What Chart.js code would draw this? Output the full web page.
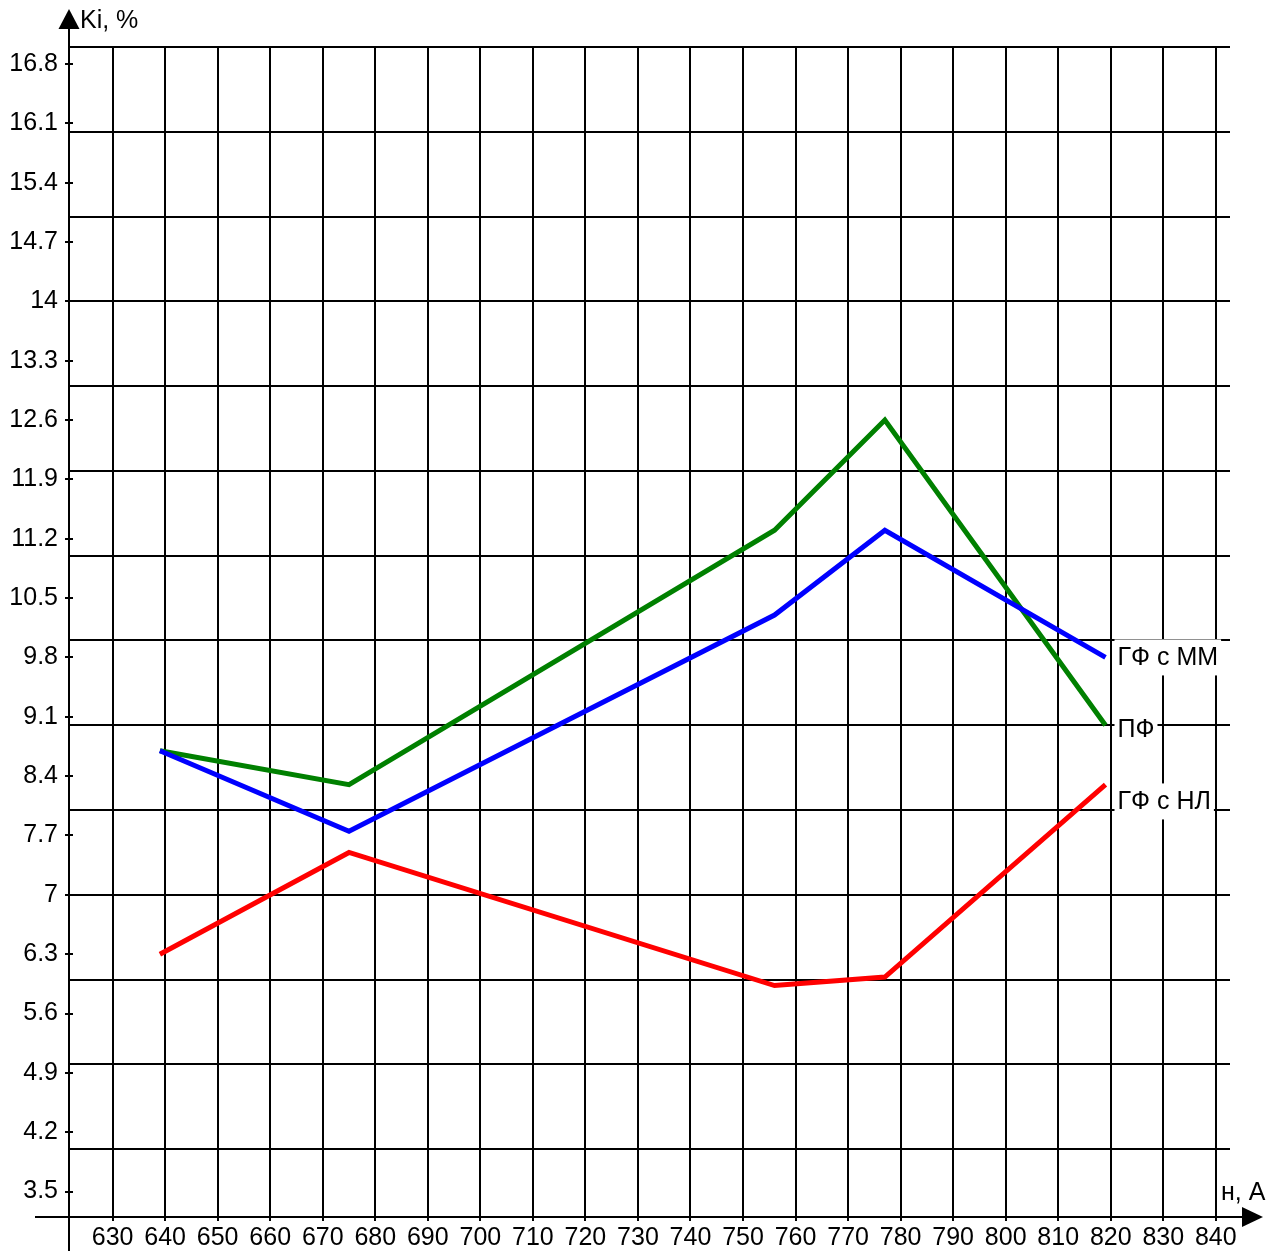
<!DOCTYPE html>
<html>
<head>
<meta charset="utf-8">
<script src="https://cdn.jsdelivr.net/npm/chart.js@4.4.1/dist/chart.umd.min.js"></script>
<style>
  html, body { margin: 0; padding: 0; background: #fff; overflow: hidden; }
  canvas { display: block; }
</style>
</head>
<body>
<canvas id="chart" width="1278" height="1251"></canvas>
<script>
// Current, A
const currents = [639, 675, 756, 777, 819];
// Ki, % for each filter variant
const mmValues = [8.7, 7.75, 10.3, 11.3, 9.8];   // ГФ с ММ
const pfValues = [8.7, 8.3, 11.3, 12.6, 9.0];    // ПФ
const nlValues = [6.3, 7.5, 5.93, 6.03, 8.3];    // ГФ с НЛ
const seriesNames = ['ГФ с ММ', 'ПФ', 'ГФ с НЛ'];
const seriesColors = ['#0000ff', '#008000', '#ff0000'];

const xTickValues = [630, 640, 650, 660, 670, 680, 690, 700, 710, 720, 730,
                     740, 750, 760, 770, 780, 790, 800, 810, 820, 830, 840];
const yTickLabels = ['3.5', '4.2', '4.9', '5.6', '6.3', '7', '7.7', '8.4', '9.1', '9.8',
                     '10.5', '11.2', '11.9', '12.6', '13.3', '14', '14.7', '15.4', '16.1', '16.8'];
const yGridValues = [4, 5, 6, 7, 8, 9, 10, 11, 12, 13, 14, 15, 16, 17];
const yAxisTitle = 'Ki, %';
const xAxisTitle = 'н, А';

const INK = '#000';
const FONT = { family: '"Liberation Sans", Arial, sans-serif', size: 25 };
const fontStr = `${FONT.size}px ${FONT.family}`;

const toPoints = vals => currents.map((x, i) => ({ x, y: vals[i] }));
const seriesValues = [mmValues, pfValues, nlValues];

// Axis arrows, extended axis lines, axis titles and the short inner y tick marks
const axisDecor = {
  id: 'axisDecor',
  afterDraw(chart) {
    const { ctx, chartArea: a } = chart;
    const yl = chart.scales.y;
    ctx.save();
    ctx.strokeStyle = INK;
    ctx.fillStyle = '#000';
    ctx.lineWidth = 2;
    const ax = Math.round(a.left);
    const ay = Math.round(a.bottom);
    ctx.beginPath();
    // y axis: up to arrow and down past the x axis
    ctx.moveTo(ax, a.top); ctx.lineTo(ax, 26);
    ctx.moveTo(ax, ay); ctx.lineTo(ax, chart.height);
    // x axis: left of the y axis and on to the arrow
    ctx.moveTo(35, ay); ctx.lineTo(ax, ay);
    ctx.moveTo(a.right, ay); ctx.lineTo(1244, ay);
    // inner halves of the y tick marks
    yl.ticks.forEach(t => {
      const py = Math.round(yl.getPixelForValue(t.value));
      ctx.moveTo(ax, py); ctx.lineTo(ax + 4, py);
    });
    ctx.stroke();
    // arrow heads
    ctx.beginPath();
    ctx.moveTo(ax, 9); ctx.lineTo(ax - 10.5, 29); ctx.lineTo(ax + 10.5, 29); ctx.closePath();
    ctx.fill();
    ctx.beginPath();
    ctx.moveTo(1263, ay); ctx.lineTo(1242, ay - 10); ctx.lineTo(1242, ay + 10); ctx.closePath();
    ctx.fill();
    // axis titles
    ctx.font = fontStr;
    ctx.fillStyle = INK;
    ctx.textAlign = 'left';
    ctx.textBaseline = 'middle';
    ctx.fillText(yAxisTitle, 80, 21);
    ctx.fillText(xAxisTitle, 1221, 1193);
    ctx.restore();
  }
};

// Series names at the right end of each line, on white boxes, kept apart vertically
const endLabels = {
  id: 'endLabels',
  afterDatasetsDraw(chart) {
    const { ctx } = chart;
    const xs = chart.scales.x, ys = chart.scales.y;
    const items = chart.data.datasets.map(ds => {
      const last = ds.data[ds.data.length - 1];
      return { text: ds.label, x: xs.getPixelForValue(last.x), y: ys.getPixelForValue(last.y) };
    }).sort((p, q) => p.y - q.y);
    const gap = 72;
    for (let i = 1; i < items.length; i++) {
      items[i].y = Math.max(items[i].y, items[i - 1].y + gap);
    }
    ctx.save();
    ctx.font = fontStr;
    ctx.textAlign = 'left';
    ctx.textBaseline = 'middle';
    items.forEach(it => {
      const w = ctx.measureText(it.text).width;
      const left = it.x + 9;
      ctx.fillStyle = '#fff';
      ctx.fillRect(left, it.y - 18, w + 6, 36);
      ctx.fillStyle = INK;
      ctx.fillText(it.text, left + 3, it.y + 1);
    });
    ctx.restore();
  }
};

new Chart(document.getElementById('chart'), {
  type: 'line',
  data: {
    datasets: seriesNames.map((name, i) => ({
      label: name,
      data: toPoints(seriesValues[i]),
      borderColor: seriesColors[i],
      backgroundColor: seriesColors[i],
      borderWidth: 5,
      borderJoinStyle: 'miter',
      pointRadius: 0,
      tension: 0,
      fill: false
    }))
  },
  options: {
    responsive: false,
    animation: false,
    events: [],
    layout: { padding: { top: 47, right: 48, left: 0, bottom: 0 } },
    plugins: { legend: { display: false }, tooltip: { enabled: false } },
    scales: {
      x: {
        type: 'linear',
        position: 'bottom',
        min: 621.7,
        max: 842.7,
        afterBuildTicks: s => { s.ticks = xTickValues.map(v => ({ value: v })); },
        afterFit: s => { s.height = 34; },
        ticks: { font: FONT, color: INK, padding: 2, maxRotation: 0, autoSkip: false,
                 callback: v => String(v) },
        grid: { color: INK, lineWidth: 2, tickLength: 4, drawOnChartArea: true },
        border: { display: true, color: INK, width: 2 }
      },
      y: {
        type: 'linear',
        position: 'left',
        min: 3.2,
        max: 17,
        afterBuildTicks: s => { s.ticks = yTickLabels.map(l => ({ value: parseFloat(l) })); },
        afterFit: s => { s.width = 69; },
        ticks: { font: FONT, color: INK, padding: 7, autoSkip: false,
                 callback: (v, i) => yTickLabels[i] },
        grid: { color: INK, lineWidth: 2, tickLength: 4, drawOnChartArea: false },
        border: { display: true, color: INK, width: 2 }
      },
      yGrid: {
        type: 'linear',
        position: 'right',
        min: 3.2,
        max: 17,
        afterBuildTicks: s => { s.ticks = yGridValues.map(v => ({ value: v })); },
        afterFit: s => { s.width = 0; },
        ticks: { display: false },
        grid: { color: INK, lineWidth: 2, drawTicks: false, drawOnChartArea: true },
        border: { display: false }
      }
    }
  },
  plugins: [endLabels, axisDecor]
});
</script>
</body>
</html>
